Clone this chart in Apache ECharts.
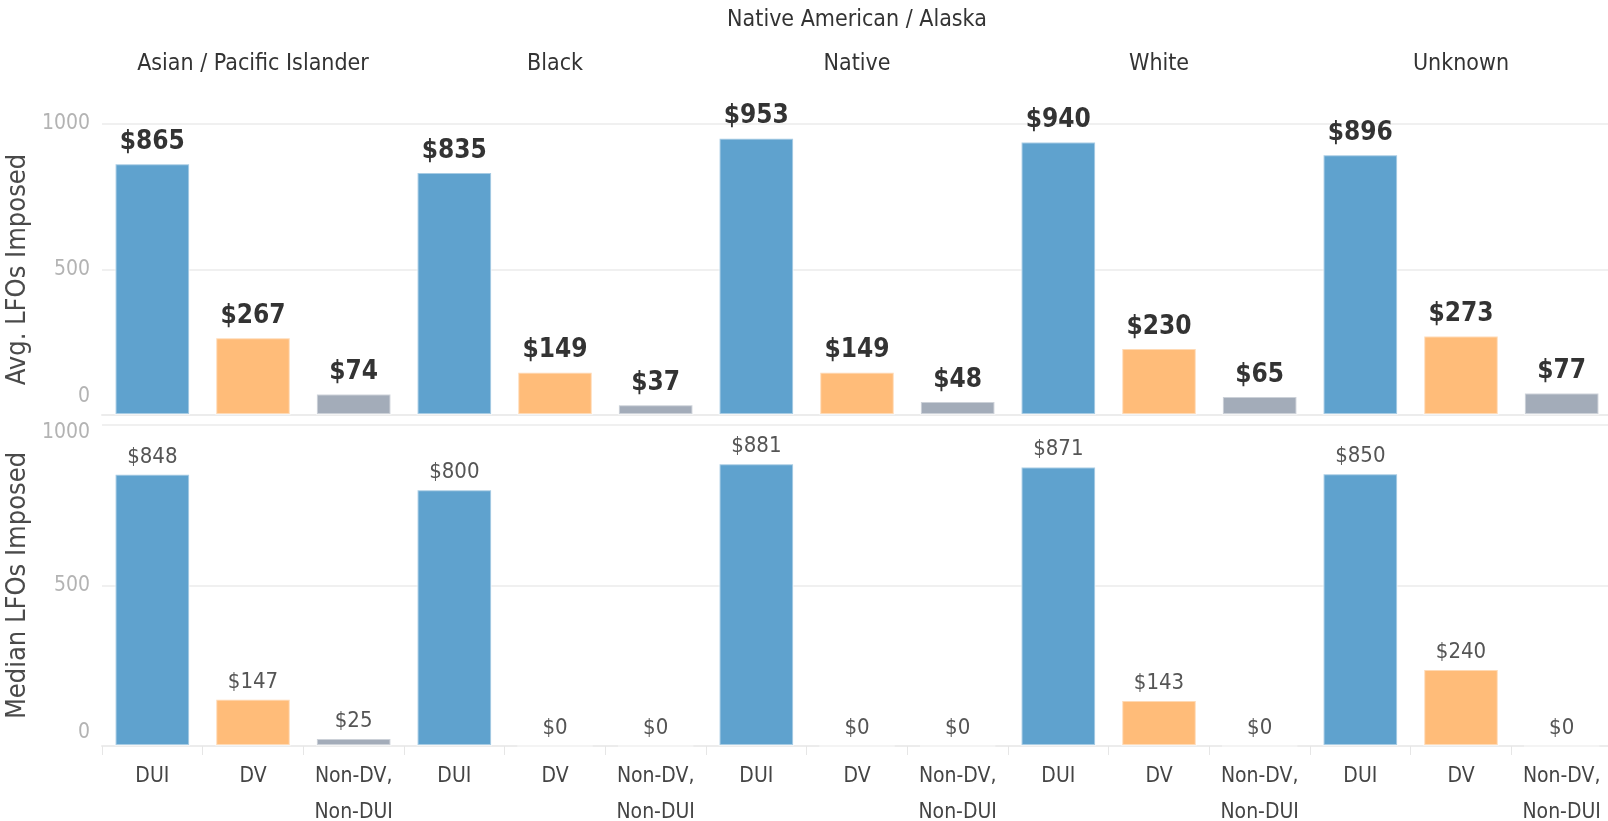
<!DOCTYPE html>
<html>
<head>
<meta charset="utf-8">
<script src="https://cdn.jsdelivr.net/npm/echarts@6/dist/echarts.min.js"></script>
<style>
html, body { margin: 0; padding: 0; background: #fff; }
#chart { width: 1608px; height: 821px; }
</style>
</head>
<body>
<div id="chart"></div>
<script>
var groups = ['Asian / Pacific Islander', 'Black', 'Native American / Alaska\nNative', 'White', 'Unknown'];
var types = ['DUI', 'DV', 'Non-DV,\nNon-DUI'];
var typeColors = ['#5fa2ce', '#ffbc79', '#a3acb9'];

// Avg. LFOs imposed, by group (DUI / DV / other)
var avgDUI = [865, 835, 953, 940, 896];
var avgDV = [267, 149, 149, 230, 273];
var avgOther = [74, 37, 48, 65, 77];

// Median LFOs imposed
var medDUI = [848, 800, 881, 871, 850];
var medDV = [147, 0, 0, 143, 240];
var medOther = [25, 0, 0, 0, 0];

var yTicks = [0, 500, 1000];

var font = "'DejaVu Sans Condensed', 'Liberation Sans', sans-serif";

function flatten(a, b, c) {
	var out = [];
	for (var i = 0; i < a.length; i++) {
		out.push(a[i], b[i], c[i]);
	}
	return out;
}

var cats = [];
for (var g = 0; g < groups.length; g++) {
	for (var t = 0; t < types.length; t++) {
		cats.push(types[t]);
	}
}

var avgAll = flatten(avgDUI, avgDV, avgOther);
var medAll = flatten(medDUI, medDV, medOther);

function barSeries(idx, values, labelSize, bold, dist) {
	return {
		type: 'bar',
		xAxisIndex: idx === 0 ? 0 : 2,
		yAxisIndex: idx,
		barWidth: '75%',
		data: values,
		itemStyle: {
			color: function(p) { return typeColors[p.dataIndex % 3]; },
			borderColor: 'rgba(255,255,255,0.45)',
			borderWidth: 2
		},
		label: {
			show: true,
			position: 'top',
			distance: dist,
			formatter: function(p) { return '$' + p.value; },
			fontFamily: font,
			fontSize: labelSize,
			fontWeight: bold ? 'bold' : 'normal',
			color: bold ? '#333' : '#555'
		}
	};
}

function yAxis(idx, name, zeroPad, maxPad) {
	return {
		type: 'value',
		gridIndex: idx,
		min: yTicks[0],
		max: yTicks[2],
		interval: 500,
		name: name,
		nameLocation: 'middle',
		nameGap: 70,
		nameTextStyle: { fontFamily: font, fontSize: 27, color: '#4a4a4a' },
		axisLine: { show: false },
		axisTick: { show: false },
		splitLine: { lineStyle: { color: '#f0f0f0', width: 2 } },
		axisLabel: {
			margin: 12,
			fontFamily: font,
			fontSize: 21,
			color: '#b3b3b3',
			formatter: function(v) {
				if (v === 0) return '{z|0}';
				if (v === 1000) return '{m|1000}';
				return String(v);
			},
			rich: {
				z: { fontFamily: font, fontSize: 21, color: '#b3b3b3', padding: [0, 0, zeroPad, 0] },
				m: { fontFamily: font, fontSize: 21, color: '#b3b3b3', padding: [maxPad, 0, 0, 0] }
			}
		}
	};
}

var Chart = echarts.init(document.getElementById('chart'));
var option = {
	animation: false,
	grid: [
		{ left: 102, width: 1510, top: 124, height: 291, outerBoundsMode: 'none' },
		{ left: 102, width: 1510, top: 425, height: 321, outerBoundsMode: 'none' }
	],
	xAxis: [
		{
			type: 'category', gridIndex: 0, data: cats,
			axisLine: { lineStyle: { color: '#ececec', width: 2 } },
			axisTick: { show: false },
			axisLabel: { show: false }
		},
		{
			type: 'category', gridIndex: 0, data: groups, position: 'top',
			axisLine: { show: false },
			axisTick: { show: false },
			axisLabel: {
				interval: 0,
				margin: 38,
				fontFamily: font,
				fontSize: 23,
				lineHeight: 44,
				color: '#333'
			}
		},
		{
			type: 'category', gridIndex: 1, data: cats,
			axisLine: { lineStyle: { color: '#ececec', width: 2 } },
			axisTick: { show: true, length: 9, lineStyle: { color: '#e6e6e6' } },
			axisLabel: {
				interval: 0,
				margin: 13,
				fontFamily: font,
				fontSize: 21,
				lineHeight: 36,
				color: '#444'
			}
		}
	],
	yAxis: [
		yAxis(0, 'Avg. LFOs Imposed', 36, 0),
		yAxis(1, 'Median LFOs Imposed', 26, 16)
	],
	series: [
		barSeries(0, avgAll, 26, true, 8),
		barSeries(1, medAll, 22, false, 6)
	]
};
Chart.setOption(option);
</script>
</body>
</html>
